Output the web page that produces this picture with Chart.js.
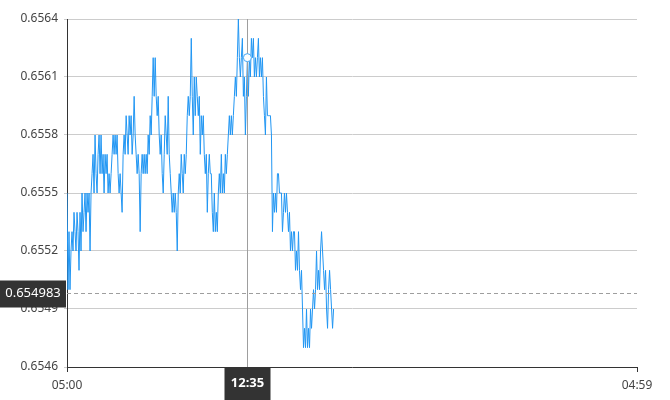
<!DOCTYPE html>
<html>
<head>
<meta charset="utf-8">
<script src="https://cdn.jsdelivr.net/npm/chart.js@4"></script>
<style>
  html, body { margin: 0; padding: 0; background: #fff; }
  #wrap { width: 670px; height: 400px; position: relative; }
</style>
</head>
<body>
<div id="wrap"><canvas id="priceChart"></canvas></div>
<script>
// minutes since 05:00, one sample about every 2.5 min
const stepMin = 2.53;
const prices = [
  0.6555,0.6550,0.6553,0.6550,0.6552,0.6553,0.6552,0.6554,0.6553,0.6552,0.6554,0.6553,0.6551,0.6554,0.6552,0.6555,0.6553,0.6554,0.6555,0.6553,
  0.6555,0.6554,0.6555,0.6552,0.6555,0.6556,0.6557,0.6555,0.6558,0.6556,0.6555,0.6557,0.6558,0.6556,0.6558,0.6556,0.6557,0.6555,0.6557,0.6556,
  0.6557,0.6555,0.6556,0.6555,0.6556,0.6557,0.6558,0.6557,0.6558,0.6557,0.6558,0.6556,0.6555,0.6556,0.6555,0.6554,0.6557,0.6558,0.6557,0.6559,
  0.6558,0.6557,0.6559,0.6558,0.6559,0.6557,0.6558,0.6560,0.6558,0.6557,0.6556,0.6557,0.6556,0.6553,0.6556,0.6557,0.6556,0.6557,0.6556,0.6557,
  0.6556,0.6558,0.6557,0.6559,0.6558,0.6560,0.6562,0.6560,0.6562,0.6560,0.6559,0.6560,0.6558,0.6557,0.6558,0.6556,0.6555,0.6557,0.6559,0.6558,
  0.6557,0.6560,0.6557,0.6556,0.6555,0.6554,0.6555,0.6554,0.6555,0.6554,0.6552,0.6555,0.6556,0.6555,0.6557,0.6556,0.6555,0.6557,0.6556,0.6557,
  0.6559,0.6560,0.6559,0.6560,0.6563,0.6560,0.6558,0.6561,0.6559,0.6561,0.6560,0.6559,0.6560,0.6557,0.6559,0.6558,0.6559,0.6557,0.6556,0.6557,
  0.6554,0.6556,0.6557,0.6556,0.6556,0.6554,0.6553,0.6555,0.6553,0.6554,0.6553,0.6555,0.6556,0.6555,0.6557,0.6555,0.6556,0.6555,0.6557,0.6556,
  0.6557,0.6558,0.6559,0.6558,0.6559,0.6558,0.6559,0.6560,0.6561,0.6560,0.6562,0.6564,0.6562,0.6561,0.6562,0.6563,0.6560,0.6561,0.6558,0.6560,
  0.6562,0.6560,0.6562,0.6561,0.6563,0.6562,0.6563,0.6561,0.6562,0.6561,0.6562,0.6563,0.6561,0.6562,0.6561,0.6562,0.6560,0.6559,0.6558,0.6561,
  0.6559,0.6559,0.6559,0.6559,0.6558,0.6553,0.6555,0.6554,0.6555,0.6554,0.6556,0.6556,0.6555,0.6555,0.6555,0.6553,0.6554,0.6555,0.6554,0.6555,
  0.6554,0.6553,0.6554,0.6552,0.6553,0.6552,0.6553,0.6553,0.6551,0.6552,0.6551,0.6553,0.6551,0.6550,0.6551,0.6549,0.6547,0.6548,0.6547,0.6549,
  0.6547,0.6548,0.6547,0.6549,0.6548,0.6549,0.6550,0.6549,0.6550,0.6552,0.6550,0.6551,0.6550,0.6552,0.6553,0.6552,0.6551,0.6550,0.6551,0.6549,
  0.6548,0.6550,0.6551,0.6550,0.6549,0.6548,0.6549
];

const yTicks = [0.6546, 0.6549, 0.6552, 0.6555, 0.6558, 0.6561, 0.6564];
const xTicks = [0, 1439];
const xTickLabels = ['05:00', '04:59'];

// crosshair state
const hoverIndex = 180;
const hoverMinute = 455;
const hoverTimeLabel = '12:35';
const cursorPrice = 0.654983;

const points = prices.map((p, i) => ({ x: i * stepMin, y: p }));

const fontFamily = '"Noto Sans", "Open Sans", sans-serif';

const crosshair = {
  id: 'crosshair',
  afterDatasetsDraw(chart) {
    const { ctx, chartArea, scales } = chart;
    const x = Math.round(scales.x.getPixelForValue(hoverMinute)) + 0.5;
    const y = Math.round(scales.y.getPixelForValue(cursorPrice)) + 0.5;
    ctx.save();
    // vertical line
    ctx.strokeStyle = '#9e9e9e';
    ctx.lineWidth = 1;
    ctx.beginPath();
    ctx.moveTo(x, chartArea.top);
    ctx.lineTo(x, chartArea.bottom);
    ctx.stroke();
    // horizontal dashed line
    ctx.setLineDash([4, 3]);
    ctx.beginPath();
    ctx.moveTo(chartArea.left, y);
    ctx.lineTo(chartArea.right, y);
    ctx.stroke();
    ctx.setLineDash([]);

    // hovered point
    const meta = chart.getDatasetMeta(0);
    const pt = meta.data[hoverIndex];
    ctx.beginPath();
    ctx.arc(pt.x, pt.y, 4, 0, Math.PI * 2);
    ctx.fillStyle = '#fff';
    ctx.fill();
    ctx.strokeStyle = '#45a7f5';
    ctx.stroke();

    // price label on the y axis
    ctx.fillStyle = '#333';
    ctx.fillRect(0, y - 13, chartArea.left - 1, 27);
    ctx.fillStyle = '#fff';
    ctx.font = '13px ' + fontFamily;
    ctx.textAlign = 'center';
    ctx.textBaseline = 'middle';
    ctx.fillText(cursorPrice.toFixed(6), (chartArea.left - 1) / 2, y);

    // time label on the x axis
    ctx.fillStyle = '#333';
    ctx.fillRect(x - 23, chartArea.bottom + 1, 46, 33);
    ctx.fillStyle = '#fff';
    ctx.font = 'bold 13px ' + fontFamily;
    ctx.fillText(hoverTimeLabel, x, chartArea.bottom + 16);
    ctx.restore();
  }
};

new Chart(document.getElementById('priceChart'), {
  type: 'line',
  data: {
    datasets: [{
      data: points,
      borderColor: '#2196f3',
      borderWidth: 1,
      pointRadius: 0,
      tension: 0,
      fill: false
    }]
  },
  options: {
    responsive: true,
    maintainAspectRatio: false,
    animation: false,
    layout: { padding: { left: 0, right: 33, top: 19, bottom: 0 } },
    plugins: {
      legend: { display: false },
      tooltip: { enabled: false }
    },
    scales: {
      x: {
        type: 'linear',
        min: 0,
        max: 1439,
        afterBuildTicks: (scale) => { scale.ticks = xTicks.map(v => ({ value: v })); },
        afterFit: (scale) => { scale.height = 33; },
        border: { color: '#333', width: 1 },
        grid: { drawOnChartArea: false, drawTicks: true, tickLength: 5, color: '#333' },
        ticks: {
          color: '#444',
          font: { family: fontFamily, size: 12 },
          padding: 6,
          maxRotation: 0,
          callback: (v) => xTickLabels[xTicks.indexOf(v)]
        }
      },
      y: {
        min: 0.6546,
        max: 0.6564,
        afterBuildTicks: (scale) => { scale.ticks = yTicks.map(v => ({ value: v })); },
        afterFit: (scale) => { scale.width = 67; },
        border: { color: '#333', width: 1 },
        grid: { color: '#cccccc', tickLength: 3 },
        ticks: {
          color: '#444',
          font: { family: fontFamily, size: 12 },
          padding: 6,
          callback: (v) => v.toFixed(4)
        }
      }
    }
  },
  plugins: [crosshair]
});
</script>
</body>
</html>
